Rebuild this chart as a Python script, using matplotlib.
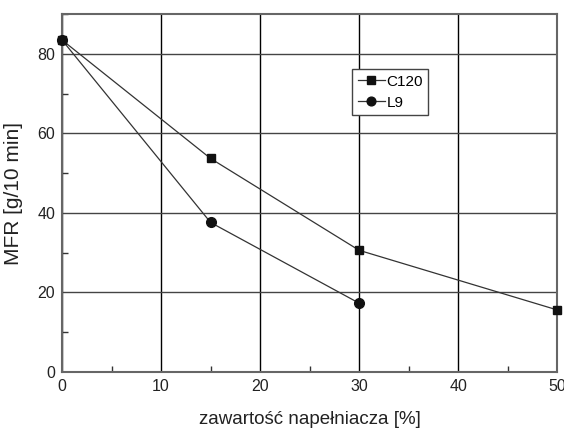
import matplotlib
matplotlib.use("Agg")
import matplotlib.pyplot as plt
from matplotlib.ticker import MultipleLocator

plt.rcParams['font.family'] = ['Liberation Sans', 'DejaVu Sans']

# filler content [%] and melt flow rate [g/10 min]
x_c120 = [0, 15, 30, 50]
mfr_c120 = [83.5, 53.7, 30.6, 15.6]
x_l9 = [0, 15, 30]
mfr_l9 = [83.5, 37.6, 17.3]

xticks = [0, 10, 20, 30, 40, 50]
yticks = [0, 20, 40, 60, 80]

fig = plt.figure(figsize=(5.64, 4.30), dpi=100)
ax = fig.add_axes([0.110, 0.135, 0.878, 0.832])

ax.set_xlim(0, 50)
ax.set_ylim(0, 90)
ax.set_xticks(xticks)
ax.set_yticks(yticks)
ax.xaxis.set_minor_locator(MultipleLocator(5))
ax.yaxis.set_minor_locator(MultipleLocator(10))

ax.grid(True, which='major', axis='x', color='black', linewidth=1.0)
ax.grid(True, which='major', axis='y', color='#444444', linewidth=1.0)
ax.set_axisbelow(True)

ax.tick_params(which='both', direction='in', colors='#333333', labelcolor='#222222',
               labelsize=11.5, top=False, right=False)
ax.tick_params(which='major', length=0, pad=5)
ax.tick_params(which='minor', length=4, width=1)
for s in ax.spines.values():
    s.set_color('#666666')
    s.set_linewidth(1.5)

ax.plot(x_c120, mfr_c120, color='#333333', linewidth=0.9, marker='s', markersize=6,
        markerfacecolor='#111111', markeredgecolor='#111111', label='C120', clip_on=False, zorder=3)
ax.plot(x_l9, mfr_l9, color='#333333', linewidth=0.9, marker='o', markersize=7,
        markerfacecolor='#111111', markeredgecolor='#111111', label='L9', clip_on=False, zorder=3)

leg = ax.legend(loc='upper left', bbox_to_anchor=(0.586, 0.846), fontsize=11,
                frameon=True, fancybox=False, edgecolor='#444444', framealpha=1,
                handlelength=1.8, handletextpad=0.1, borderpad=0.35, labelspacing=0.45,
                borderaxespad=0, markerscale=0.9)
leg.get_frame().set_linewidth(1.0)

ax.set_xlabel('zawartość napełniacza [%]', fontsize=13.5, color='#222222', labelpad=12)
ax.set_ylabel('MFR [g/10 min]', fontsize=15, color='#222222', labelpad=10)

fig.savefig('out.png', dpi=100)
